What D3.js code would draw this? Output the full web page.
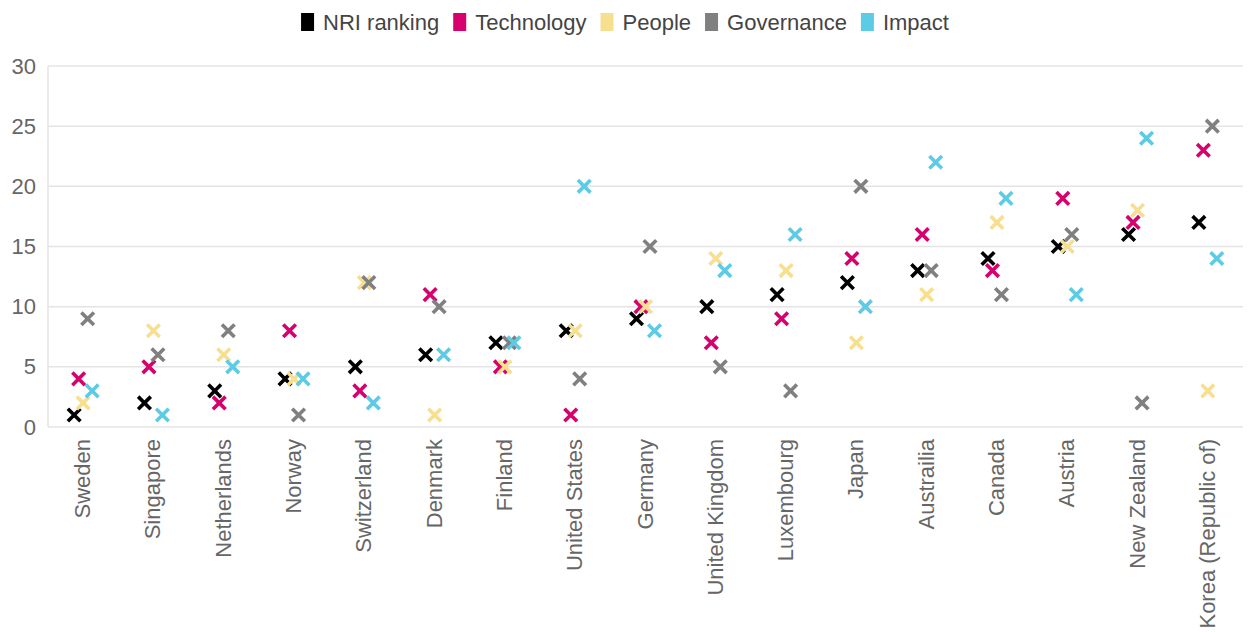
<!DOCTYPE html>
<html><head><meta charset="utf-8">
<script src="https://cdn.jsdelivr.net/npm/d3@7"></script>
<style>body{margin:0;background:#fff;} svg{display:block;font-family:"Liberation Sans",Arial,sans-serif;}</style>
</head><body><svg id="c" width="1250" height="632"></svg>
<script>
const categories = ["Sweden","Singapore","Netherlands","Norway","Switzerland","Denmark","Finland","United States","Germany","United Kingdom","Luxembourg","Japan","Austrailia","Canada","Austria","New Zealand","Korea (Republic of)"];
const seriesNames = ["NRI ranking","Technology","People","Governance","Impact"];
const seriesColors = ["#000000","#d6006e","#f7df8e","#808080","#5ccbe6"];
const nri        = [1,2,3,4,5,6,7,8,9,10,11,12,13,14,15,16,17];
const technology = [4,5,2,8,3,11,5,1,10,7,9,14,16,13,19,17,23];
const people     = [2,8,6,4,12,1,5,8,10,14,13,7,11,17,15,18,3];
const governance = [9,6,8,1,12,10,7,4,15,5,3,20,13,11,16,2,25];
const impact     = [3,1,5,4,2,6,7,20,8,13,16,10,22,19,11,24,14];
const yTicks = [0,5,10,15,20,25,30];
const seriesValues = [nri, technology, people, governance, impact];

const svg = d3.select("#c");
const m = {left:48, right:1243, top:66, bottom:427};
const x = d3.scaleBand().domain(categories).range([m.left, m.right]);
const y = d3.scaleLinear().domain([0,30]).range([m.bottom, m.top]);
const off = d3.scalePoint().domain(seriesNames).range([-9, 9]);

// gridlines
svg.append("g").selectAll("line").data(yTicks).join("line")
  .attr("x1", m.left).attr("x2", m.right)
  .attr("y1", d=>y(d)).attr("y2", d=>y(d))
  .attr("stroke", "#e4e4e4").attr("stroke-width", 1.5);
svg.append("line").attr("x1", m.left).attr("x2", m.left).attr("y1", m.top).attr("y2", m.bottom)
  .attr("stroke", "#e4e4e4").attr("stroke-width", 1.5);

// y axis
const ya = svg.append("g").attr("transform", `translate(${m.left},0)`)
  .call(d3.axisLeft(y).tickValues(yTicks).tickSize(0).tickPadding(12));
ya.select(".domain").remove();
ya.selectAll("text").attr("font-size", 22).attr("fill", "#666").attr("font-family","Liberation Sans, Arial, sans-serif");

// x axis
const xa = svg.append("g").attr("transform", `translate(0,${m.bottom})`)
  .call(d3.axisBottom(x).tickSize(0).tickPadding(0));
xa.select(".domain").remove();
xa.selectAll("text").attr("font-size", 22).attr("fill", "#666").attr("font-family","Liberation Sans, Arial, sans-serif")
  .attr("text-anchor","end").attr("dy", null).attr("y", 0)
  .attr("transform", "translate(-1,12) rotate(-90) translate(0,8)");

// points
const s = 6.3;
seriesNames.forEach((name, si) => {
  const g = svg.append("g");
  const pts = categories.map((c, i) => ({c, v: seriesValues[si][i]}));
  g.selectAll("path").data(pts).join("path")
    .attr("transform", d => `translate(${x(d.c) + x.bandwidth()/2 + off(name)},${y(d.v)})`)
    .attr("d", `M${-s},${-s}L${s},${s}M${-s},${s}L${s},${-s}`)
    .attr("stroke", seriesColors[si]).attr("stroke-width", 3.6).attr("fill","none");
});

// legend
const leg = svg.append("g");
let lx = 0;
seriesNames.forEach((name, i) => {
  const it = leg.append("g").attr("transform", `translate(${lx},0)`);
  it.append("rect").attr("x",0).attr("y",-9).attr("width",13).attr("height",18).attr("fill", seriesColors[i]);
  const t = it.append("text").attr("x",22).attr("y",8).attr("font-size",22).attr("fill","#444").text(name);
  const w = t.node().getComputedTextLength();
  lx += 22 + w + 14;
});
const total = lx - 14;
leg.attr("transform", `translate(${(1250-total)/2},22)`);
</script></body></html>
